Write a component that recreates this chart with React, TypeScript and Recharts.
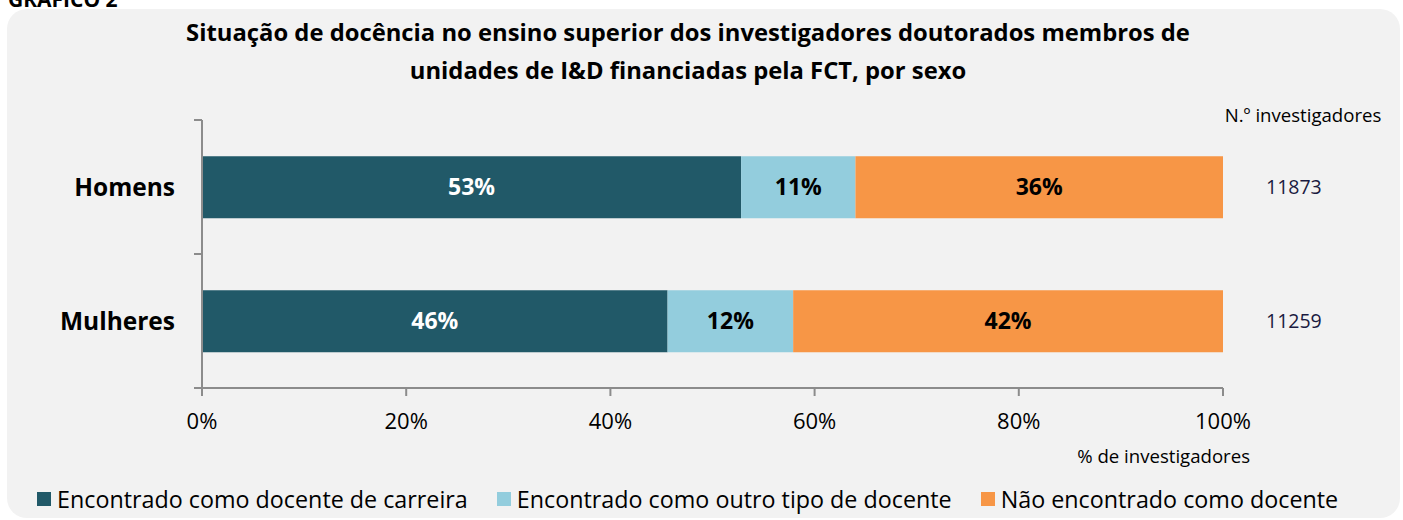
import { BarChart, Bar, XAxis, YAxis, Legend, LabelList } from 'recharts'

const sexos = ['Homens', 'Mulheres']
const docenteCarreira = [52.8, 45.6]
const outroDocente = [11.2, 12.3]
const naoDocente = [36.0, 42.1]
const nInvestigadores = [11873, 11259]
const xTicks = [0, 20, 40, 60, 80, 100]

const seriesNames = [
  'Encontrado como docente de carreira',
  'Encontrado como outro tipo de docente',
  'Não encontrado como docente',
]
const colors = ['#215968', '#93cddd', '#f79646']

const data = sexos.map((s, i) => ({
  sexo: s,
  carreira: docenteCarreira[i],
  outro: outroDocente[i],
  nao: naoDocente[i],
}))

const FONT = '"Open Sans", sans-serif'

function SexoTick(props: any) {
  const { x, y, payload } = props
  const half = payload.offset || 0
  const lx = x + 19
  return (
    <g>
      <line x1={lx} x2={lx + 8} y1={y - half} y2={y - half} stroke="#8c8c8c" strokeWidth={2} />
      <line x1={lx} x2={lx + 8} y1={y + half} y2={y + half} stroke="#8c8c8c" strokeWidth={2} />
      <text x={x} y={y} dy="0.35em" textAnchor="end" fontSize={24.5} fontWeight={700} fill="#000" fontFamily={FONT}>
        {payload.value}
      </text>
    </g>
  )
}

function LegendContent() {
  return (
    <div style={{ display: 'flex', height: 28, alignItems: 'center', fontFamily: FONT, fontSize: 23.3, color: '#000', whiteSpace: 'nowrap' }}>
      {seriesNames.map((n, i) => (
        <div key={n} style={{ display: 'flex', alignItems: 'center', marginRight: 29 }}>
          <span style={{ width: 14, height: 14, background: colors[i], marginRight: 6, display: 'inline-block' }} />
          <span>{n}</span>
        </div>
      ))}
    </div>
  )
}

const pct = (v: any) => `${Math.round(Number(v))}%`

export default function App() {
  return (
    <div style={{ position: 'absolute', left: 0, top: 0, width: 1403, height: 520, overflow: 'hidden', background: '#fff' }}>
      <div style={{ position: 'absolute', left: 8, top: -11, fontFamily: FONT, fontSize: 21, fontWeight: 700, lineHeight: '20px' }}>
        GRÁFICO 2
      </div>
      <div style={{ position: 'absolute', left: 7, top: 9, width: 1393, height: 509, background: '#f2f2f2', borderRadius: 20 }} />
      <div
        style={{
          position: 'absolute',
          left: 0,
          width: 1376,
          top: 13,
          textAlign: 'center',
          fontFamily: FONT,
          fontSize: 23.8,
          fontWeight: 700,
          lineHeight: '38px',
          color: '#000',
        }}
      >
        Situação de docência no ensino superior dos investigadores doutorados membros de
        <br />
        unidades de I&amp;D financiadas pela FCT, por sexo
      </div>
      <div style={{ position: 'absolute', left: 0, top: 0 }}>
        <BarChart
          width={1403}
          height={520}
          data={data}
          layout="vertical"
          barCategoryGap="27%"
          margin={{ top: 120, right: 0, bottom: 7, left: 0 }}
        >
          <XAxis
            type="number"
            domain={[0, 100]}
            ticks={xTicks}
            tickFormatter={(v) => `${v}%`}
            height={97}
            tickSize={8}
            tickMargin={17}
            stroke="#8c8c8c"
            axisLine={{ stroke: '#8c8c8c', strokeWidth: 2 }}
            tickLine={{ stroke: '#8c8c8c', strokeWidth: 2 }}
            tick={{ fontSize: 22, fill: '#000', fontFamily: FONT }}
            label={{
              value: '% de investigadores',
              position: 'insideBottomRight',
              offset: 22,
              dx: 49,
              style: { fontSize: 18.6, fill: '#000', fontFamily: FONT },
            }}
          />
          <YAxis
            type="category"
            dataKey="sexo"
            width={202}
            tickSize={8}
            tickMargin={19}
            axisLine={{ stroke: '#8c8c8c', strokeWidth: 2 }}
            tickLine={false}
            tick={<SexoTick />}
          />
          <YAxis
            yAxisId="n"
            type="category"
            dataKey="sexo"
            orientation="right"
            width={180}
            axisLine={false}
            tickLine={false}
            tickSize={0}
            tickMargin={43}
            tickFormatter={(_v, i) => String(nInvestigadores[i])}
            tick={{ fontSize: 19.5, fill: '#1a1a40', fontFamily: FONT }}
            label={{
              value: 'N.º investigadores',
              position: 'top',
              offset: -2,
              dx: -10,
              style: { fontSize: 18.6, fill: '#000', fontFamily: FONT },
            }}
          />
          <Legend verticalAlign="bottom" align="left" wrapperStyle={{ left: 37 }} content={<LegendContent />} />
          <Bar dataKey="carreira" stackId="a" fill={colors[0]} isAnimationActive={false} name={seriesNames[0]}>
            <LabelList dataKey="carreira" position="center" formatter={pct} fill="#fff" fontSize={23} fontWeight={700} fontFamily={FONT} />
          </Bar>
          <Bar dataKey="outro" stackId="a" fill={colors[1]} isAnimationActive={false} name={seriesNames[1]}>
            <LabelList dataKey="outro" position="center" formatter={pct} fill="#000" fontSize={23} fontWeight={700} fontFamily={FONT} />
          </Bar>
          <Bar dataKey="nao" stackId="a" fill={colors[2]} isAnimationActive={false} name={seriesNames[2]}>
            <LabelList dataKey="nao" position="center" formatter={pct} fill="#000" fontSize={23} fontWeight={700} fontFamily={FONT} />
          </Bar>
        </BarChart>
      </div>
    </div>
  )
}
